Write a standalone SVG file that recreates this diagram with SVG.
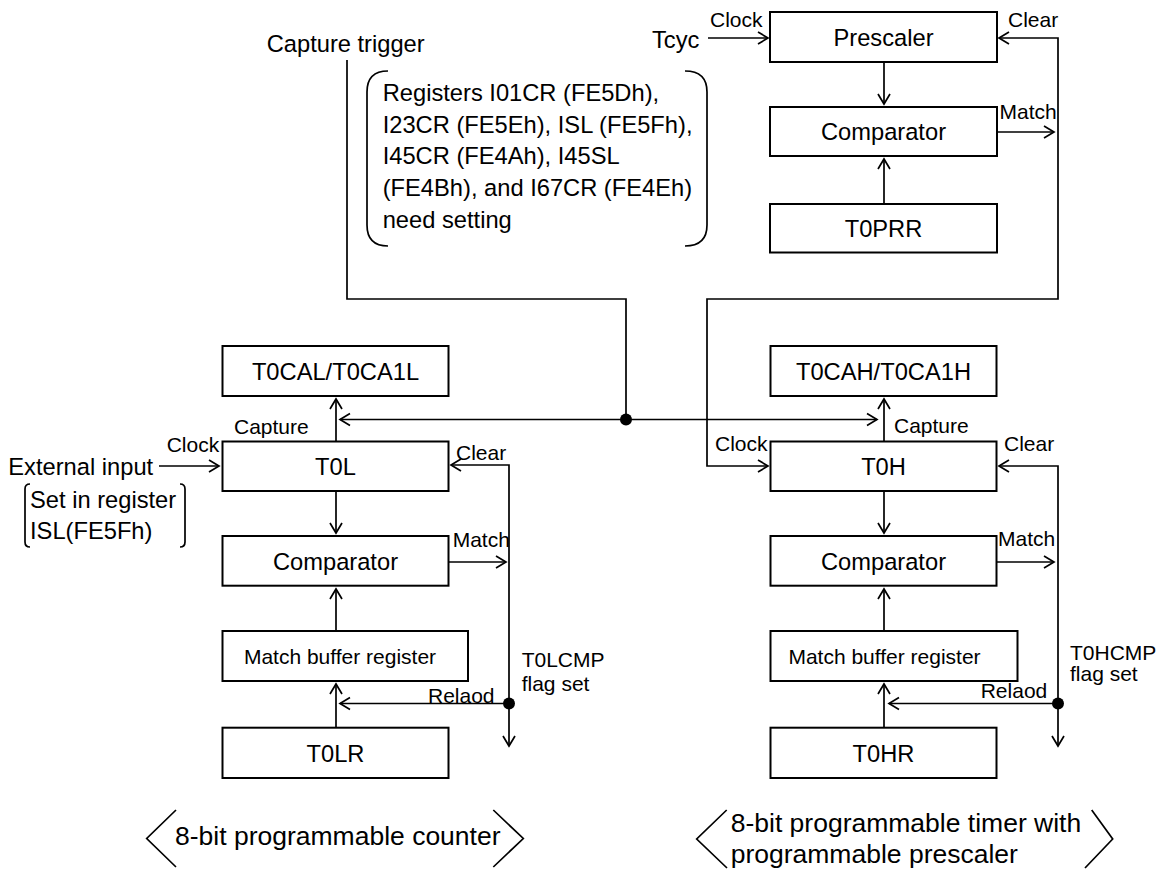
<svg xmlns="http://www.w3.org/2000/svg" width="1163" height="869" viewBox="0 0 1163 869">
  <style>
    .box { fill: #fff; stroke: #000; stroke-width: 2; }
    .ln { fill: none; stroke: #000; stroke-width: 1.7; }
    .arr { marker-end: url(#ah); }
    .arr2 { marker-start: url(#ah); marker-end: url(#ah); }
    .dot { fill: #000; }
    text { font-family: "Liberation Sans", Arial, Helvetica, sans-serif; fill: #000; }
    .t { font-size: 23.7px; }
    .c { text-anchor: middle; }
    .s { font-size: 21px; }
    .b { font-size: 26.5px; }
  </style>
  <defs>
    <marker id="ah" viewBox="-12 -8 14 16" refX="0" refY="0" markerWidth="14" markerHeight="16" markerUnits="userSpaceOnUse" orient="auto-start-reverse">
      <path d="M-10,-6 L0,0 L-10,6" fill="none" stroke="#000" stroke-width="1.7"/>
    </marker>
  </defs>
  <rect width="1163" height="869" fill="#fff"/>

  <!-- connectors -->
  <g id="connectors">
    <!-- prescaler block -->
    <path class="ln arr" d="M708,38 L768,38"/>
    <path class="ln arr" d="M884,62 L884,104"/>
    <path class="ln arr" d="M884,204 L884,159"/>
    <path class="ln arr" d="M997,132 L1054,132"/>
    <path class="ln arr2" d="M999,38 L1058,38 L1058,299 L707,299 L707,466 L768,466"/>
    <!-- capture trigger and capture bus -->
    <path class="ln" d="M347,60 L347,299 L626,299 L626,419.5"/>
    <path class="ln arr" d="M626,419.5 L340,419.5"/>
    <path class="ln arr" d="M626,419.5 L877,419.5"/>
    <circle class="dot" cx="626" cy="419.5" r="6"/>
    <!-- low byte counter -->
    <path class="ln arr" d="M159,466 L219,466"/>
    <path class="ln arr" d="M336,441.5 L336,399"/>
    <path class="ln arr" d="M336,491 L336,533"/>
    <path class="ln arr" d="M449,562 L506,562"/>
    <path class="ln arr2" d="M509,746 L509,465 L451,465"/>
    <path class="ln arr" d="M336,631 L336,589"/>
    <path class="ln arr" d="M336,727.5 L336,684"/>
    <path class="ln arr" d="M509,703.5 L340,703.5"/>
    <circle class="dot" cx="509" cy="703.5" r="6"/>
    <!-- high byte timer -->
    <path class="ln arr" d="M884,441.5 L884,399"/>
    <path class="ln arr" d="M884,491 L884,533"/>
    <path class="ln arr" d="M997,562 L1054,562"/>
    <path class="ln arr2" d="M1058,746 L1058,466 L999,466"/>
    <path class="ln arr" d="M884,631 L884,589"/>
    <path class="ln arr" d="M884,727.5 L884,684"/>
    <path class="ln arr" d="M1058,703.5 L889,703.5"/>
    <circle class="dot" cx="1058" cy="703.5" r="6"/>
  </g>

  <!-- nodes -->
  <g id="prescaler">
    <rect class="box" x="770" y="12" width="227" height="50"/>
    <text class="t c" x="883.5" y="45.5">Prescaler</text>
  </g>
  <g id="comparator-pre">
    <rect class="box" x="770" y="107" width="227" height="49"/>
    <text class="t c" x="883.5" y="140">Comparator</text>
  </g>
  <g id="t0prr">
    <rect class="box" x="770" y="204" width="227" height="48.5"/>
    <text class="t c" x="883.5" y="236.7">T0PRR</text>
  </g>

  <g id="t0cal">
    <rect class="box" x="222.5" y="346" width="226" height="50"/>
    <text class="t c" x="335.5" y="379.5">T0CAL/T0CA1L</text>
  </g>
  <g id="t0l">
    <rect class="box" x="222.5" y="441.5" width="226" height="49.5"/>
    <text class="t c" x="335.5" y="474.5">T0L</text>
  </g>
  <g id="comparator-l">
    <rect class="box" x="222.5" y="536" width="226" height="49.7"/>
    <text class="t c" x="335.5" y="569.5">Comparator</text>
  </g>
  <g id="match-buffer-l">
    <rect class="box" x="222.5" y="631" width="245.5" height="50"/>
    <text class="t s c" x="340" y="663.5">Match buffer register</text>
  </g>
  <g id="t0lr">
    <rect class="box" x="222.5" y="727.7" width="226" height="50.3"/>
    <text class="t c" x="335.5" y="761.5">T0LR</text>
  </g>

  <g id="t0cah">
    <rect class="box" x="770.5" y="346" width="226" height="50"/>
    <text class="t c" x="883.5" y="379.5">T0CAH/T0CA1H</text>
  </g>
  <g id="t0h">
    <rect class="box" x="770.5" y="441.5" width="226" height="49.5"/>
    <text class="t c" x="883.5" y="474.5">T0H</text>
  </g>
  <g id="comparator-h">
    <rect class="box" x="770.5" y="536" width="226" height="49.7"/>
    <text class="t c" x="883.5" y="569.5">Comparator</text>
  </g>
  <g id="match-buffer-h">
    <rect class="box" x="770.5" y="631" width="247" height="50"/>
    <text class="t s c" x="884.5" y="663.5">Match buffer register</text>
  </g>
  <g id="t0hr">
    <rect class="box" x="770.5" y="727.7" width="226" height="50.3"/>
    <text class="t c" x="883.5" y="761.5">T0HR</text>
  </g>

  <!-- signal labels -->
  <g id="labels">
    <text class="t" x="266.7" y="51.7">Capture trigger</text>
    <text class="t" x="652" y="48.3">Tcyc</text>
    <text class="t s" x="710" y="27">Clock</text>
    <text class="t s" x="1008" y="27">Clear</text>
    <text class="t s" x="999.5" y="119">Match</text>

    <text class="t" x="8.3" y="474.5">External input</text>
    <text class="t s" x="166.7" y="451.7">Clock</text>
    <text class="t s" x="234" y="434">Capture</text>
    <text class="t s" x="456" y="460">Clear</text>
    <text class="t s" x="452.7" y="547">Match</text>
    <text class="t s" x="428" y="702.7">Relaod</text>
    <text class="t s" x="521.7" y="667">T0LCMP</text>
    <text class="t s" x="521.7" y="691">flag set</text>

    <text class="t s" x="715" y="450.7">Clock</text>
    <text class="t s" x="894" y="432.7">Capture</text>
    <text class="t s" x="1004" y="450.7">Clear</text>
    <text class="t s" x="998" y="546">Match</text>
    <text class="t s" x="980.7" y="698.3">Relaod</text>
    <text class="t s" x="1070" y="659.5">T0HCMP</text>
    <text class="t s" x="1070" y="681">flag set</text>
  </g>

  <!-- register setting note -->
  <g id="register-note">
    <path class="ln" d="M388,71 Q367,71 367,92 L367,225 Q367,246 388,246"/>
    <path class="ln" d="M685,71 Q707,71 707,92 L707,225 Q707,246 685,246"/>
    <text class="t" x="382.7" y="100.7">Registers I01CR (FE5Dh),</text>
    <text class="t" x="382.7" y="132.5">I23CR (FE5Eh), ISL (FE5Fh),</text>
    <text class="t" x="382.7" y="164.3">I45CR (FE4Ah), I45SL</text>
    <text class="t" x="382.7" y="196">(FE4Bh), and I67CR (FE4Eh)</text>
    <text class="t" x="382.7" y="227.7">need setting</text>
  </g>

  <!-- external input note -->
  <g id="isl-note">
    <path class="ln" d="M30,484 Q25,484 25,489 L25,542 Q25,547 30,547"/>
    <path class="ln" d="M180,484 Q185,484 185,489 L185,542 Q185,547 180,547"/>
    <text class="t" x="30" y="508.3">Set in register</text>
    <text class="t" x="30" y="539.3">ISL(FE5Fh)</text>
  </g>

  <!-- block captions -->
  <g id="caption-counter">
    <path class="ln" d="M176,810 L146.7,838.5 L176,867"/>
    <path class="ln" d="M493.3,810 L523.3,838.5 L493.3,867"/>
    <text class="t b" x="175" y="845">8-bit programmable counter</text>
  </g>
  <g id="caption-timer">
    <path class="ln" d="M726.7,810 L696.7,839 L727,868"/>
    <path class="ln" d="M1091.7,810 L1112.7,839 L1085,868"/>
    <text class="t b" x="730.7" y="831.7">8-bit programmable timer with</text>
    <text class="t b" x="730.7" y="862.5">programmable prescaler</text>
  </g>
</svg>
